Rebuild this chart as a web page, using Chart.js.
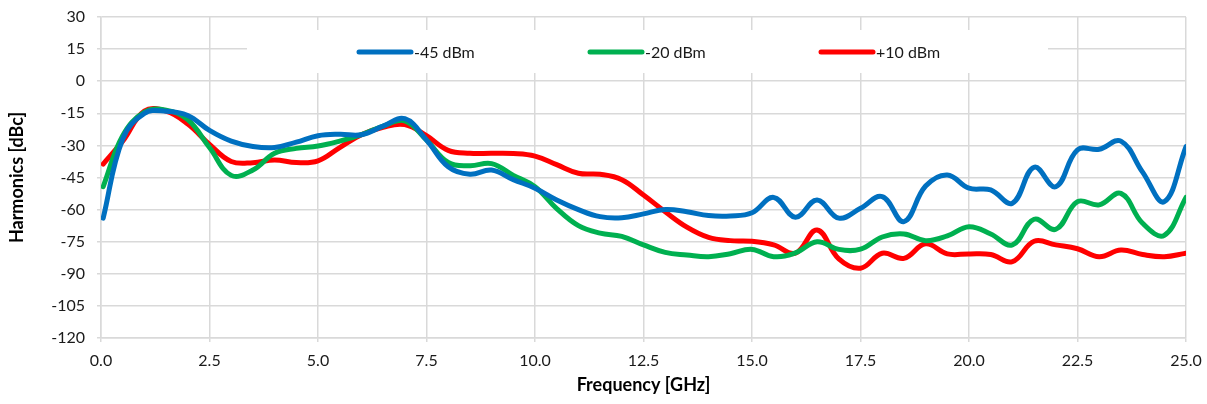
<!DOCTYPE html>
<html>
<head>
<meta charset="utf-8">
<script src="https://cdn.jsdelivr.net/npm/chart.js@4.4.1/dist/chart.umd.min.js"></script>
<style>
  html, body { margin: 0; padding: 0; background: #fff; }
  #wrap { width: 1207px; height: 404px; }
</style>
</head>
<body>
<div id="wrap"><canvas id="harmChart"></canvas></div>
<script>
// Frequency points [GHz]
const freqs = [0.05, 0.5, 1.0, 1.5, 2.0, 2.5, 3.0, 3.5, 4.0, 4.5, 5.0, 5.5, 6.0, 6.5, 7.0, 7.5, 8.0, 8.5, 9.0, 9.5,
  10.0, 10.5, 11.0, 11.5, 12.0, 12.5, 13.0, 13.5, 14.0, 14.5, 15.0, 15.5, 16.0, 16.5, 17.0, 17.5, 18.0, 18.5, 19.0, 19.5,
  20.0, 20.5, 21.0, 21.5, 22.0, 22.5, 23.0, 23.5, 24.0, 24.5, 25.0];

// Harmonics [dBc] per input power
const m45 = [-64, -27, -15, -14, -16, -23, -28, -30.5, -31, -28.5, -25.5, -24.8, -25, -21, -17.5, -27.5, -40, -43.5, -41.5, -46,
  -50, -55.5, -60, -63.3, -63.8, -62, -60, -61, -62.8, -63, -61.5, -54.3, -63.6, -55.5, -64, -59.4, -53.9, -65.6, -49, -43.8,
  -50, -50.8, -57, -40.2, -49.3, -32.1, -31.8, -28, -42.5, -56.3, -30.6];
const m20 = [-49.3, -25.5, -14.5, -13.5, -18, -31, -44, -41.5, -33.7, -31.4, -30.3, -28, -25, -21, -18.5, -27.5, -38, -39.5, -38.5, -44,
  -49.3, -59.5, -67.5, -71, -72.5, -76.5, -80, -81.2, -82, -80.6, -78.6, -82, -80.2, -75, -78.6, -78.5, -72.8, -71.4, -74.5, -72.3,
  -68, -71.4, -76.5, -64.5, -69.2, -56.3, -57.8, -52.4, -66.4, -72, -54.3];
const p10 = [-38.7, -28, -14, -14, -20, -29.5, -37.5, -38.1, -36.8, -38, -37.2, -31, -25, -21.5, -20.3, -25.5, -32.3, -33.7, -33.7, -33.8,
  -35, -39, -43, -43.5, -46, -53.2, -61, -68.2, -73, -74.5, -74.8, -76.5, -80.4, -69.5, -83, -87.4, -80.4, -82.8, -76, -80.7,
  -80.7, -81, -84.3, -74.8, -76.5, -78.3, -82, -78.9, -81, -82, -80.4];

const seriesLabels = ["-45 dBm", "-20 dBm", "+10 dBm"];
const seriesColors = ["#0070C0", "#00B050", "#FF0000"];

const toPts = vals => vals.map((v, i) => ({ x: freqs[i], y: v }));

// white legend box inside the plot, drawn over the grid
const boxLegend = {
  id: "boxLegend",
  beforeDatasetsDraw(chart) {
    const { ctx, chartArea: a } = chart;
    ctx.save();
    ctx.fillStyle = "#fff";
    ctx.fillRect(a.left + 146, a.top + 13, 801, 43);
    const cy = a.top + 35;
    chart.data.datasets.forEach((ds, i) => {
      const x0 = a.left + 256 + i * 231;
      ctx.strokeStyle = ds.borderColor;
      ctx.lineWidth = 5;
      ctx.lineCap = "round";
      ctx.beginPath();
      ctx.moveTo(x0 + 2, cy);
      ctx.lineTo(x0 + 54, cy);
      ctx.stroke();
      ctx.fillStyle = "#1a1a1a";
      ctx.font = "16px Lato";
      ctx.textBaseline = "middle";
      ctx.textAlign = "left";
      ctx.fillText(ds.label, x0 + 57, cy + 1);
    });
    ctx.restore();
  }
};

const gridCol = "#d9d9d9";

new Chart(document.getElementById("harmChart"), {
  type: "line",
  data: {
    datasets: [m45, m20, p10].map((vals, i) => ({
      label: seriesLabels[i],
      data: toPts(vals),
      borderColor: seriesColors[i],
      backgroundColor: seriesColors[i],
      borderWidth: 5,
      pointRadius: 0,
      tension: 0.4,
      borderCapStyle: "round",
      borderJoinStyle: "round"
    }))
  },
  options: {
    responsive: true, maintainAspectRatio: false,
    animation: false,
    layout: { padding: { left: 2, right: 21, top: 17, bottom: 4 } },
    plugins: {
      legend: { display: false },
      tooltip: { enabled: false }
    },
    scales: {
      x: {
        type: "linear", min: 0, max: 25,
        afterFit: s => { s.height = 62; s.paddingLeft = 0; s.paddingRight = 0; },
        grid: { color: gridCol, lineWidth: 1.5, tickLength: 4 },
        border: { color: gridCol, width: 1.5 },
        ticks: {
          stepSize: 2.5, padding: 9, maxRotation: 0,
          color: "#1a1a1a", font: { family: "Lato", size: 16 },
          callback: v => v.toFixed(1)
        },
        title: {
          display: true, text: "Frequency [GHz]", color: "#000",
          font: { family: "Lato", size: 18, weight: "bold" }, padding: { top: 4 }
        }
      },
      y: {
        min: -120, max: 30,
        afterFit: s => { s.width = 99; s.paddingTop = 0; s.paddingBottom = 0; },
        grid: { color: gridCol, lineWidth: 1.5, tickLength: 4 },
        border: { color: gridCol, width: 1.5 },
        ticks: {
          stepSize: 15, padding: 12,
          color: "#1a1a1a", font: { family: "Lato", size: 16 }
        },
        title: {
          display: true, text: "Harmonics [dBc]", color: "#000",
          font: { family: "Lato", size: 18, weight: "bold" }, padding: { top: 4, bottom: 0 }
        }
      }
    }
  },
  plugins: [boxLegend]
});
</script>
</body>
</html>
